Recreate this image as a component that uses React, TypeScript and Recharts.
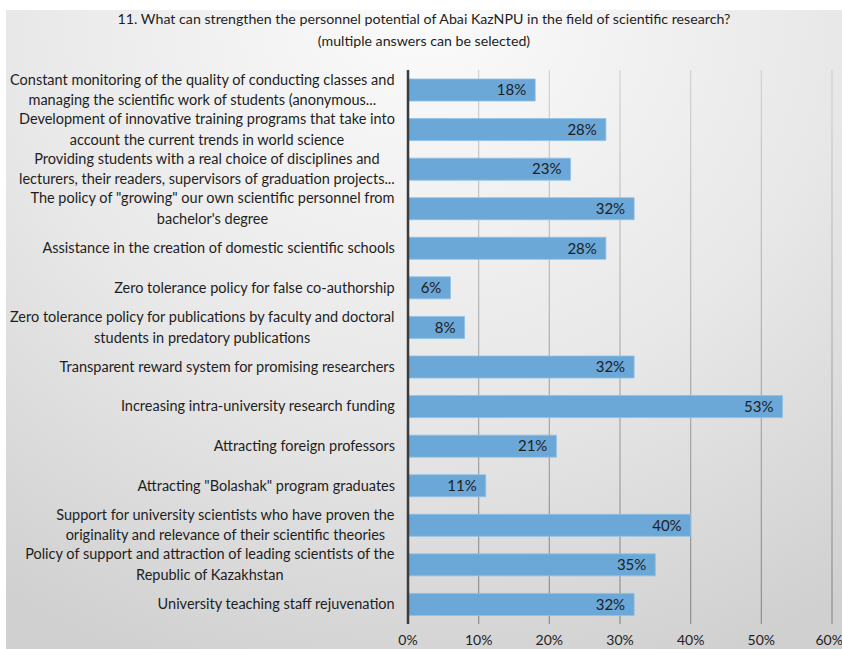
import React from 'react'
import { Bar, BarChart, CartesianGrid, LabelList, XAxis, YAxis } from 'recharts'

const titleLines = [
  '11. What can strengthen the personnel potential of Abai KazNPU in the field of scientific research?',
  '(multiple answers can be selected)',
]

const categories = [
  'Constant monitoring of the quality of conducting classes and\nmanaging the scientific work of students (anonymous...',
  'Development of innovative training programs that take into\naccount the current trends in world science',
  'Providing students with a real choice of disciplines and\nlecturers, their readers, supervisors of graduation projects...',
  'The policy of "growing" our own scientific personnel from\nbachelor\'s degree',
  'Assistance in the creation of domestic scientific schools',
  'Zero tolerance policy for false co-authorship',
  'Zero tolerance policy for publications by faculty and doctoral\nstudents in predatory publications',
  'Transparent reward system for promising researchers',
  'Increasing intra-university research funding',
  'Attracting foreign professors',
  'Attracting "Bolashak" program graduates',
  'Support for university scientists who have proven the\noriginality and relevance of their scientific theories',
  'Policy of support and attraction of leading scientists of the\nRepublic of Kazakhstan',
  'University teaching staff rejuvenation',
]

const shares = [18, 28, 23, 32, 28, 6, 8, 32, 53, 21, 11, 40, 35, 32]

const xTicks = [0, 10, 20, 30, 40, 50, 60]

const FONT = 'Lato, "Open Sans", sans-serif'
const LABEL_SIZE = 14.5
const INK = '#1e1e1e'

const data = categories.map((name, i) => ({ name, value: shares[i] }))

let ctx: CanvasRenderingContext2D | null = null
function textWidth(s: string) {
  if (!ctx) ctx = document.createElement('canvas').getContext('2d')
  if (!ctx) return s.length * 6.5
  ctx.font = `${LABEL_SIZE}px ${FONT}`
  return ctx.measureText(s).width
}

// wrapped lines are centred on each other, the block sits right against the axis
function CategoryTick({ x, y, payload }: { x?: number; y?: number; payload?: { value: string } }) {
  const lines = String(payload?.value ?? '').split('\n')
  const widest = Math.max(...lines.map(textWidth))
  const right = (x ?? 0) - 5
  const cx = right - widest / 2
  const lh = 20.5
  const top = (y ?? 0) - ((lines.length - 1) * lh) / 2
  return (
    <text textAnchor="middle" fontSize={LABEL_SIZE} fontFamily={FONT} fill={INK}>
      {lines.map((l, i) => (
        <tspan key={i} x={cx} y={top + i * lh} dy="0.35em">
          {l}
        </tspan>
      ))}
    </text>
  )
}

export default function App() {
  return (
    <div style={{ position: 'absolute', left: 0, top: 0, width: 842, height: 649, background: '#fff', overflow: 'hidden' }}>
      <div
        style={{
          position: 'absolute',
          left: 6,
          top: 10,
          right: 0,
          bottom: 0,
          background: 'radial-gradient(ellipse 90% 110% at 50% 0%, #fbfbfb 0%, #e8e8e8 55%, #d0d0d0 100%)',
        }}
      />
      <div
        style={{
          position: 'absolute',
          left: 6,
          right: 0,
          top: 8,
          textAlign: 'center',
          fontFamily: FONT,
          fontSize: 14.2,
          lineHeight: '22px',
          color: INK,
        }}
      >
        {titleLines.map((t) => (
          <div key={t}>{t}</div>
        ))}
      </div>
      <div style={{ position: 'absolute', left: 0, top: 0 }}>
        <BarChart layout="vertical" width={842} height={649} data={data} margin={{ top: 70, right: 10, bottom: 0, left: 0 }}>
          <defs>
            <linearGradient id="gridFade" gradientUnits="userSpaceOnUse" x1="0" y1="70" x2="0" y2="624">
              <stop offset="0%" stopColor="#d2d2d2" />
              <stop offset="100%" stopColor="#8c8c8c" />
            </linearGradient>
          </defs>
          <CartesianGrid horizontal={false} stroke="url(#gridFade)" strokeWidth={1.2} />
          <XAxis
            type="number"
            domain={[0, 60]}
            ticks={xTicks}
            tickFormatter={(v) => `${v}%`}
            axisLine={false}
            tickLine={false}
            tickMargin={5}
            height={25}
            tick={{ fontSize: 14, fill: INK, fontFamily: FONT }}
          />
          <YAxis
            type="category"
            dataKey="name"
            width={408}
            interval={0}
            axisLine={{ stroke: '#3c3c3c', strokeWidth: 2.5 }}
            tickLine={false}
            tick={<CategoryTick />}
          />
          <Bar dataKey="value" fill="#6ba7d7" stroke="#8ec0e6" strokeWidth={0.8} barSize={22} isAnimationActive={false}>
            <LabelList
              dataKey="value"
              position="insideRight"
              offset={9}
              formatter={(v: number) => `${v}%`}
              fill={INK}
              fontSize={15}
              fontFamily={FONT}
            />
          </Bar>
        </BarChart>
      </div>
    </div>
  )
}
